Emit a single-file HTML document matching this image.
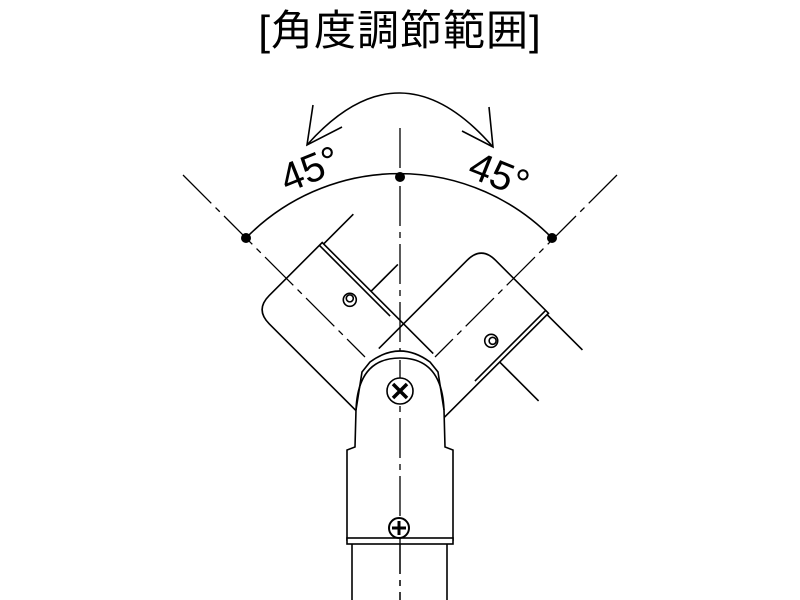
<!DOCTYPE html>
<html><head><meta charset="utf-8"><style>
html,body{margin:0;padding:0;background:#fff;}
svg{display:block}
</style></head><body>
<svg width="800" height="600" viewBox="0 0 800 600" xmlns="http://www.w3.org/2000/svg">
<text x="400" y="45" text-anchor="middle" font-family="'Liberation Sans','Noto Sans CJK JP',sans-serif" font-size="42" letter-spacing="1" fill="#000">[角度調節範囲]</text>
<g fill="none" stroke="#000" stroke-width="1.6">
  <path d="M307,145 Q400,40 493,147"/>
  <path d="M313,105 L307,145 L342,127"/>
  <path d="M489,107 L493,147 L462,131"/>
  <path d="M246,238 A214,214 0 0 1 552,238"/>
</g>
<g stroke="#000" stroke-width="1.3" stroke-dasharray="40,6,6,6">
  <line x1="400" y1="128" x2="400" y2="600"/>
  <line x1="183" y1="175" x2="365" y2="357"/>
  <line x1="617" y1="175" x2="435" y2="357"/>
</g>
<text x="0" y="0" transform="translate(287,193) rotate(-22)" font-family="'Liberation Sans',sans-serif" font-size="40">45°</text>
<text x="0" y="0" transform="translate(466,176) rotate(22)" font-family="'Liberation Sans',sans-serif" font-size="40">45°</text>
<g fill="#000">
  <circle cx="246" cy="238" r="5"/><circle cx="400" cy="177" r="5"/><circle cx="552" cy="238" r="5"/>
</g>
<g fill="none" stroke="#000" stroke-width="1.6">
  <g transform="translate(400,391) rotate(-45)">
    <path d="M-45,-15 L-45,-140 Q-45,-160 -25,-160 L50,-160 L50,-3"/>
    <path d="M46,-160 L46,-60"/>
    <line x1="50" y1="-158" x2="92" y2="-158"/>
    <line x1="50" y1="-91" x2="88" y2="-91"/>
    <circle cx="29" cy="-100" r="6.5"/><circle cx="30" cy="-101" r="3.5"/>
  </g>
  <g transform="translate(400,391) rotate(45)">
    <path d="M-45,-15 L-45,-140 Q-45,-160 -25,-160 L50,-160 L50,-3"/>
    <path d="M46,-160 L46,-60"/>
    <line x1="50" y1="-158" x2="100" y2="-158"/>
    <line x1="50" y1="-91" x2="105" y2="-91"/>
    <circle cx="29" cy="-100" r="6.5"/><circle cx="30" cy="-101" r="3.5"/>
  </g>
</g>
<g stroke="#000" stroke-width="1.6">
  <path d="M362,372 L370,362 Q400,340 430,362 L438,372 L444,410 L445,447 L453,450 L453,540 L347,540 L347,450 L355,447 L356,410 Z" fill="#fff"/>
  <path d="M356,410 Q358,358 400,358 Q442,358 444,410" fill="none"/>
  <rect x="347" y="538" width="106" height="6" fill="#fff"/>
  <line x1="352" y1="544" x2="352" y2="600"/>
  <line x1="447" y1="544" x2="447" y2="600"/>
  <line x1="400" y1="360" x2="400" y2="600" stroke-width="1.3" stroke-dasharray="40,6,6,6"/>
  <circle cx="400" cy="391" r="13" fill="#fff"/>
  <path d="M393,384 L407,398 M407,384 L393,398" stroke-width="3.5"/>
  <circle cx="399" cy="528" r="10" fill="#fff" stroke-width="2"/>
  <path d="M399,521 V535 M392,528 H406" stroke-width="3"/>
</g>
</svg>
</body></html>
